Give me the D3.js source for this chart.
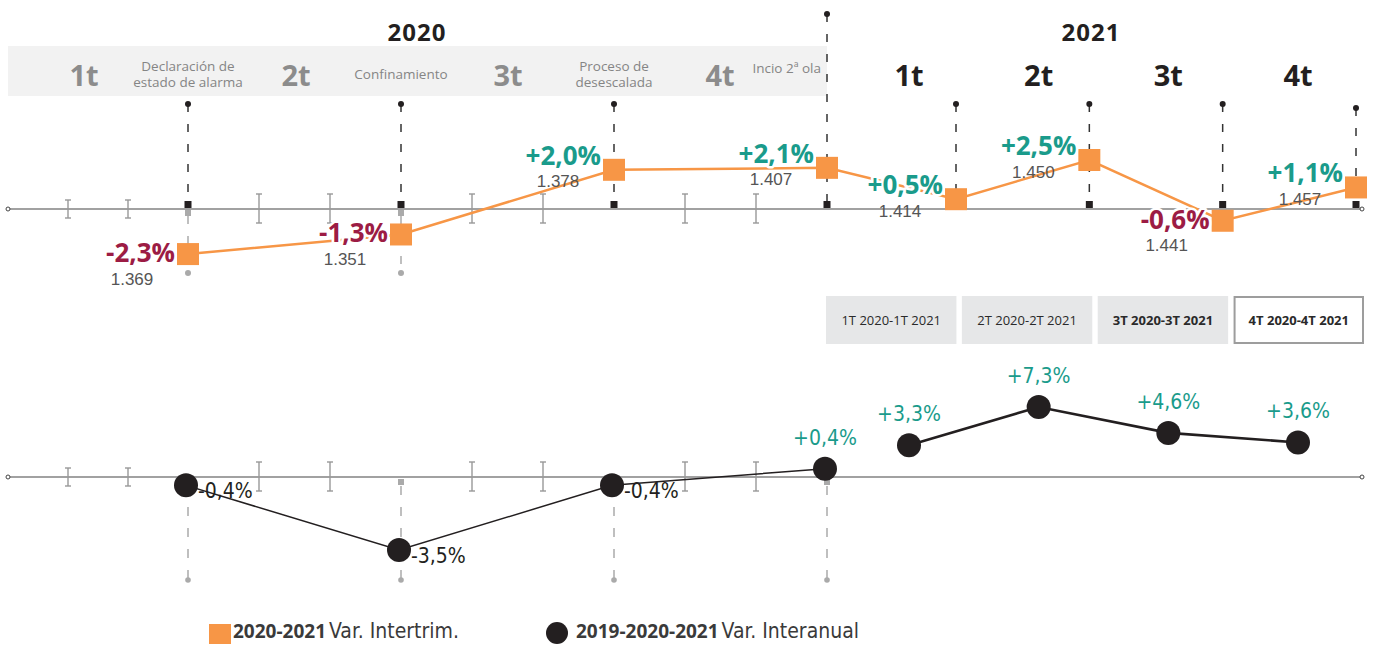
<!DOCTYPE html>
<html><head><meta charset="utf-8">
<script src="https://cdn.jsdelivr.net/npm/d3@7"></script>
<style>body{margin:0;background:#fff}svg{display:block}</style>
</head><body><svg id="c" width="1373" height="646"></svg>
<script>
// ---------- DATA ----------
const quarters = ["1T 2020","2T 2020","3T 2020","4T 2020","1T 2021","2T 2021","3T 2021","4T 2021"];
const interQuarterPct = [-2.3, -1.3, 2.0, 2.1, 0.5, 2.5, -0.6, 1.1];
const indexValues = [1.369, 1.351, 1.378, 1.407, 1.414, 1.450, 1.441, 1.457];
const interAnnualPct = [-0.4, -3.5, -0.4, 0.4, 3.3, 7.3, 4.6, 3.6];
const years = ["2020", "2021"];
const quarterLabels = ["1t", "2t", "3t", "4t"];
const events = [["Declaración de", "estado de alarma"], ["Confinamiento"], ["Proceso de", "desescalada"], ["Incio 2ª ola"]];
const comparisonBoxes = ["1T 2020-1T 2021", "2T 2020-2T 2021", "3T 2020-3T 2021", "4T 2020-4T 2021"];
const minorMonths = [1, 2, 4, 5, 7, 8, 10, 11];
const legendSeries = [["2020-2021", "Var. Intertrim."], ["2019-2020-2021", "Var. Interanual"]];

// ---------- STYLE ----------
const ORANGE = "#f79646", RED = "#9c1c44", TEAL = "#1a9b8b", DARK = "#231f20", GREY = "#999";
const fmtPct = v => d3.format("+.1f")(v).replace(".", ",").replace("\u2212", "-") + "%";
const fmtIdx = v => d3.format(".3f")(v);
const NARROW = "Liberation Sans Narrow, DejaVu Sans Condensed, sans-serif";

const svg = d3.select("#c");

// ---------- SCALES ----------
const xQ = d3.scaleLinear().domain([0, 3, 4, 7]).range([188, 827, 956, 1356]);
const xMonth = d3.scaleLinear().domain([0.8, 3, 12]).range([56, 188, 827]);
const x2020Label = d3.scalePoint().domain(quarterLabels).range([84, 720]);
const x2021 = d3.scalePoint().domain(quarterLabels).range([909, 1298]);
const xBox = d3.scaleBand().domain(comparisonBoxes).range([826, 1364]).paddingInner(0.04);
const yearX = d3.scaleOrdinal().domain(years).range([417, 1091]);

const BASE_TOP = 209, BASE_BOT = 477;
const yTop = d3.scaleLinear().domain([0, 2.5]).range([BASE_TOP, BASE_TOP - 49]);
const yBot2020 = d3.scaleLinear().domain([0, -3.5]).range([BASE_BOT, BASE_BOT + 73]);
const yBot2021 = d3.scaleLinear().domain([0, 7.3]).range([BASE_BOT, BASE_BOT - 70]);

// ---------- HEADER ----------
svg.append("rect").attr("x", 8).attr("y", 46).attr("width", xQ(3) - 8).attr("height", 50).attr("fill", "#f2f2f2");

svg.selectAll("text.year").data(years).join("text").attr("class", "year")
  .attr("x", d => yearX(d)).attr("y", 31).attr("text-anchor", "middle").attr("dominant-baseline", "central")
  .attr("font-family", "Open Sans").attr("font-weight", 700).attr("font-size", 24).attr("letter-spacing", 1)
  .attr("fill", DARK).text(d => d);

svg.selectAll("text.q20").data(quarterLabels).join("text").attr("class", "q20")
  .attr("x", d => x2020Label(d)).attr("y", 74).attr("text-anchor", "middle").attr("dominant-baseline", "central")
  .attr("font-family", "Open Sans").attr("font-weight", 700).attr("font-size", 29).attr("fill", "#8c8c8c").text(d => d);

svg.selectAll("text.q21").data(quarterLabels).join("text").attr("class", "q21")
  .attr("x", d => x2021(d)).attr("y", 74).attr("text-anchor", "middle").attr("dominant-baseline", "central")
  .attr("font-family", "Open Sans").attr("font-weight", 700).attr("font-size", 29).attr("fill", DARK).text(d => d);

events.forEach((lines, i) => {
  const last = i === events.length - 1;
  const ex = last ? xQ(i) - 6 : xQ(i);
  const y0 = lines.length === 1 ? (last ? 68 : 74) : 66;
  lines.forEach((l, j) => svg.append("text")
    .attr("x", ex).attr("y", y0 + j * 16).attr("text-anchor", last ? "end" : "middle")
    .attr("dominant-baseline", "central")
    .attr("font-family", "Open Sans").attr("font-size", 13.5).attr("fill", "#858585").text(l));
});

// ---------- AXES (baselines + minor ticks) ----------
[BASE_TOP, BASE_BOT].forEach(by => {
  svg.append("line").attr("x1", 8).attr("x2", 1362).attr("y1", by).attr("y2", by).attr("stroke", "#444").attr("stroke-width", 1.2);
  [8, 1362].forEach(cx => svg.append("circle").attr("cx", cx).attr("cy", by).attr("r", 2)
    .attr("fill", "#fff").attr("stroke", "#444").attr("stroke-width", 1));
  minorMonths.forEach(m => {
    const x = xMonth(m), short = m < 3;
    const y1 = by + (short ? -9 : -15), y2 = by + (short ? 9 : 14);
    const g = svg.append("g").attr("stroke", GREY).attr("stroke-width", 1.4);
    g.append("line").attr("x1", x).attr("x2", x).attr("y1", y1).attr("y2", y2);
    g.append("line").attr("x1", x - 3).attr("x2", x + 3).attr("y1", y1).attr("y2", y1);
    g.append("line").attr("x1", x - 3).attr("x2", x + 3).attr("y1", y2).attr("y2", y2);
  });
});

// ---------- TOP: event / quarter lines ----------
quarters.forEach((q, i) => {
  const x = xQ(i);
  const topY = i === 3 ? 14 : (i === 7 ? 108 : 104);
  svg.append("line").attr("x1", x).attr("x2", x).attr("y1", topY).attr("y2", 204)
    .attr("stroke", "#333").attr("stroke-width", 1.5).attr("stroke-dasharray", "8,12");
  svg.append("circle").attr("cx", x).attr("cy", topY).attr("r", 3).attr("fill", DARK);
  svg.append("rect").attr("x", x - 3.5).attr("y", 201).attr("width", 7).attr("height", 7).attr("fill", DARK);
  if (i < 2) {
    svg.append("rect").attr("x", x - 3).attr("y", 210).attr("width", 6).attr("height", 6).attr("fill", "#aaa");
    svg.append("line").attr("x1", x).attr("x2", x).attr("y1", 216).attr("y2", 273)
      .attr("stroke", "#aaa").attr("stroke-width", 1.5).attr("stroke-dasharray", "8,12");
    svg.append("circle").attr("cx", x).attr("cy", 273).attr("r", 3).attr("fill", "#aaa");
  }
});

// ---------- TOP: orange series ----------
svg.append("path").datum(interQuarterPct)
  .attr("d", d3.line().x((d, i) => xQ(i)).y(d => yTop(d)))
  .attr("fill", "none").attr("stroke", ORANGE).attr("stroke-width", 2.5);

svg.selectAll("rect.sq").data(interQuarterPct).join("rect").attr("class", "sq")
  .attr("x", (d, i) => xQ(i) - 11).attr("y", d => yTop(d) - 11).attr("width", 22).attr("height", 22).attr("fill", ORANGE);

svg.selectAll("text.pct").data(interQuarterPct).join("text").attr("class", "pct")
  .attr("x", (d, i) => xQ(i) - 13).attr("y", d => yTop(d) + (d < 0 ? -2 : -15))
  .attr("text-anchor", "end").attr("dominant-baseline", "central")
  .attr("font-family", "Open Sans").attr("font-weight", 700).attr("font-size", 26)
  .attr("fill", d => d < 0 ? RED : TEAL)
  .attr("stroke", "#fff").attr("stroke-width", 5).attr("paint-order", "stroke").attr("stroke-linejoin", "round")
  .text(fmtPct);

svg.selectAll("text.idx").data(indexValues).join("text").attr("class", "idx")
  .attr("x", (d, i) => xQ(i) - 56)
  .attr("y", (d, i) => yTop(interQuarterPct[i]) + (interQuarterPct[i] < 0 ? 25 : 12))
  .attr("text-anchor", "middle").attr("dominant-baseline", "central")
  .attr("font-family", "Liberation Sans").attr("font-size", 17).attr("fill", "#555")
  .text(fmtIdx);

// ---------- COMPARISON BOXES ----------
comparisonBoxes.forEach((b, i) => {
  const sel = i === comparisonBoxes.length - 1;
  svg.append("rect").attr("x", xBox(b) + (sel ? 1 : 0)).attr("y", sel ? 297 : 296)
    .attr("width", xBox.bandwidth() - (sel ? 2 : 0)).attr("height", sel ? 46 : 48)
    .attr("fill", sel ? "#fff" : "#e6e7e8").attr("stroke", sel ? "#9d9d9d" : "none").attr("stroke-width", 2);
  svg.append("text").attr("x", xBox(b) + xBox.bandwidth() / 2).attr("y", 320)
    .attr("text-anchor", "middle").attr("dominant-baseline", "central")
    .attr("font-family", "Open Sans").attr("font-size", 13).attr("font-weight", i >= 2 ? 700 : 400)
    .attr("fill", "#2a2a2a").text(b);
});

// ---------- BOTTOM: interannual ----------
const bx = i => i < 4 ? xQ(i) - 2 : x2021(quarterLabels[i - 4]);
const by = (d, i) => i < 4 ? yBot2020(d) : yBot2021(d);

for (let i = 0; i < 4; i++) {
  const x = xQ(i);
  svg.append("rect").attr("x", x - 3).attr("y", 479).attr("width", 6).attr("height", 6).attr("fill", "#aaa");
  svg.append("line").attr("x1", x).attr("x2", x).attr("y1", 486).attr("y2", 580)
    .attr("stroke", "#aaa").attr("stroke-width", 1.5).attr("stroke-dasharray", "9,12");
  svg.append("circle").attr("cx", x).attr("cy", 580).attr("r", 2.8).attr("fill", "#aaa");
}

const seg2020 = interAnnualPct.slice(0, 4), seg2021 = interAnnualPct.slice(4);
svg.append("path").datum(seg2020)
  .attr("d", d3.line().x((d, i) => bx(i)).y((d, i) => by(d, i)))
  .attr("fill", "none").attr("stroke", DARK).attr("stroke-width", 1.5);
svg.append("path").datum(seg2021)
  .attr("d", d3.line().x((d, i) => bx(i + 4)).y((d, i) => by(d, i + 4)))
  .attr("fill", "none").attr("stroke", DARK).attr("stroke-width", 2.6);

svg.selectAll("circle.ia").data(interAnnualPct).join("circle").attr("class", "ia")
  .attr("cx", (d, i) => bx(i)).attr("cy", (d, i) => by(d, i)).attr("r", 12).attr("fill", DARK);

svg.selectAll("text.ial").data(interAnnualPct).join("text").attr("class", "ial")
  .attr("x", (d, i) => d < 0 ? bx(i) + 12 : bx(i))
  .attr("y", (d, i) => d < 0 ? by(d, i) + 6 : by(d, i) - 31)
  .attr("text-anchor", d => d < 0 ? "start" : "middle").attr("dominant-baseline", "central")
  .attr("font-family", NARROW).attr("font-size", 21)
  .attr("fill", d => d < 0 ? DARK : TEAL)
  .text(fmtPct);

// ---------- LEGEND ----------
const lg = svg.append("g");
lg.append("rect").attr("x", 209).attr("y", 624).attr("width", 22).attr("height", 20).attr("fill", ORANGE);
lg.append("circle").attr("cx", 557).attr("cy", 633).attr("r", 11).attr("fill", DARK);
[[233, legendSeries[0]], [576, legendSeries[1]]].forEach(([x, [b, n]]) => {
  const t = lg.append("text").attr("x", x).attr("y", 638).attr("fill", "#3a3a3a");
  t.append("tspan").attr("font-family", "Open Sans").attr("font-weight", 700).attr("font-size", 19).text(b);
  t.append("tspan").attr("dx", 3).attr("font-family", NARROW).attr("font-size", 21).text(n);
});
</script>
</body></html>
